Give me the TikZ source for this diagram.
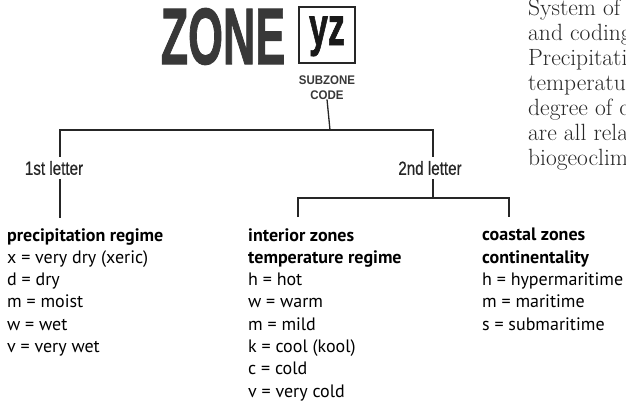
\documentclass[tikz,border=0pt]{standalone}
\usepackage{fontspec}
\usepackage{graphicx}
\usepackage{tikz}
\usetikzlibrary{positioning}

\newfontfamily\listfont{PT Sans}
\newfontfamily\labelfont{Liberation Sans}
\newfontfamily\letterfont[FakeBold=0.8]{Liberation Sans}
\newfontfamily\heavyfont[BoldFeatures={FakeBold=1.5}]{Liberation Sans}

\begin{document}
\begin{tikzpicture}[x=1pt, y=-1pt,
    title/.style={font=\heavyfont\bfseries, inner sep=0pt, text=black!78},
    letter/.style={font=\letterfont\fontsize{19}{19}\selectfont, inner xsep=1pt,
                   inner ysep=4pt, text=black!85},
    regime/.style={font=\listfont\fontsize{18}{22.3}\selectfont, align=left,
                   anchor=north west, inner sep=0pt},
    prose/.style={font=\fontsize{23.5}{25}\selectfont, align=left,
                  anchor=north west, inner sep=0pt, text=black!85},
    line/.style={line width=1.3pt, black!85},
]
\useasboundingbox (0,0) rectangle (626,402);

% Zone code heading
\node[title] (zone) at (223,36.5) {\fontsize{80}{80}\selectfont\scalebox{0.56}[1]{ZONE}};
\node[draw, line width=1.3pt, black!85, minimum width=56, minimum height=56,
      inner sep=0pt] (yzbox) at (327,35) {};
\node[title, anchor=base, text=black!90] (yz) at (327,45) {\fontsize{54}{54}\selectfont\scalebox{0.63}[1]{yz}};
\node[title, align=center, below=12pt of yzbox, font=\labelfont\bfseries\fontsize{12.5}{14.5}\selectfont]
     (code) {\scalebox{0.92}[1]{SUBZONE}\\\scalebox{0.92}[1]{CODE}};

% Letter labels
\node[letter] (first)  at (54,168)  {\scalebox{0.8}[1]{1st letter}};
\node[letter] (second) at (430,168) {\scalebox{0.8}[1]{2nd letter}};

% Tree
\coordinate (split) at (330,130);
\coordinate (tl) at (60,130);
\coordinate (tr) at (433,130);
\coordinate (lend) at (60,218);
\coordinate (bl) at (298,198);
\coordinate (br) at (509,198);
\coordinate (bld) at (298,217);
\coordinate (brd) at (509,217);

\draw[line] (code.south) -- (split);
\draw[line] (first.north -| tl) -- (tl) -- (tr) -- (second.north -| tr);
\draw[line] (first.south -| tl) -- (lend);
\draw[line] (second.south -| tr) -- (tr |- bl);
\draw[line] (bld) -- (bl) -- (br) -- (brd);

% Regimes
\node[regime] (precip) at (7,228) {\textbf{precipitation regime}\\
  x = very dry (xeric)\\d = dry\\m = moist\\w = wet\\v = very wet};
\node[regime] (interior) at (248,228) {\textbf{interior zones}\\
  \textbf{temperature regime}\\h = hot\\w = warm\\m = mild\\
  k = cool (kool)\\c = cold\\v = very cold};
\node[regime] (coastal) at (482,228) {\textbf{coastal zones}\\
  \textbf{continentality}\\h = hypermaritime\\m = maritime\\s = submaritime};

% Page text cut at the right edge
\begin{scope}
\clip (0,0) rectangle (626,402);
\node[prose] (page) at (528,-1) {System of\\and coding\\Precipitation\\
  temperature\\degree of continentality\\are all related\\biogeoclimatic};
\end{scope}

\end{tikzpicture}
\end{document}
